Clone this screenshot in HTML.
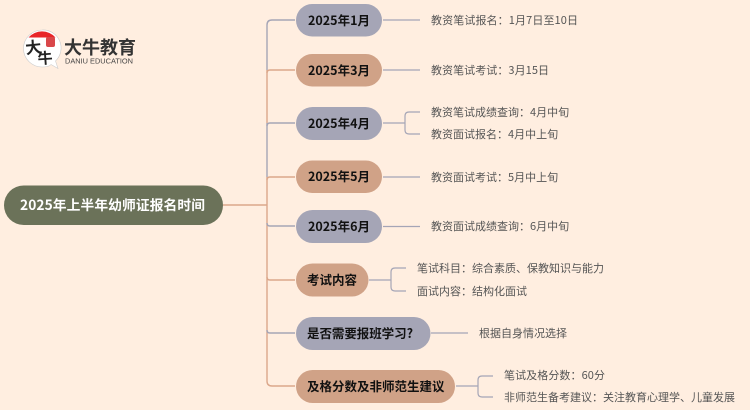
<!DOCTYPE html>
<html lang="zh">
<head>
<meta charset="utf-8">
<style>
html,body{margin:0;padding:0;background:#ffeee0;}
svg{display:block;}
text{font-family:"Liberation Sans","Noto Sans CJK SC",sans-serif;}
.n{font-size:12.5px;font-weight:700;fill:#111;font-family:"Noto Sans CJK SC",sans-serif;}
.t{font-size:11px;fill:#555;font-family:"Noto Sans CJK SC",sans-serif;}
</style>
</head>
<body>
<svg width="750" height="410" viewBox="0 0 750 410" xmlns="http://www.w3.org/2000/svg">
<rect width="750" height="410" fill="#ffeee0"/>

<!-- trunk connectors -->
<g fill="none" stroke-width="1.4">
<path d="M223 205H267" stroke="#dba78b"/>
<path d="M267 177V381Q267 386 272 386H295" stroke="#dba78b"/>
<path d="M267 70V123" stroke="#dba78b"/>
<path d="M267 123V177" stroke="#a5a5b6"/>
<path d="M295 20H272Q267 20 267 25V70" stroke="#a5a5b6"/>
<path d="M267 73Q267 70 270 70H295" stroke="#dba78b"/>
<path d="M267 126Q267 123 270 123H295" stroke="#a5a5b6"/>
<path d="M267 180Q267 177 270 177H295" stroke="#dba78b"/>
<path d="M267 223Q267 226 270 226H295" stroke="#a5a5b6"/>
<path d="M267 277Q267 280 270 280H295" stroke="#dba78b"/>
<path d="M267 330Q267 333 270 333H295" stroke="#a5a5b6"/>
<!-- right connectors -->
<g stroke="#a5a5b6" stroke-width="1.2">
<path d="M383 20H420"/>
<path d="M383 70H420"/>
<path d="M383 123H405"/>
<path d="M420 112H409Q405 112 405 116V130Q405 134 409 134H420"/>
<path d="M383 177H420"/>
<path d="M383 226.500H420"/>
<path d="M369 280H391"/>
<path d="M406 268H395Q391 268 391 272V287Q391 291 395 291H406"/>
<path d="M431 333H468"/>
<path d="M456 386H478"/>
<path d="M493 376H482Q478 376 478 380V393Q478 397 482 397H493"/>
</g>
</g>

<!-- center node -->
<rect x="4" y="185.500" width="219" height="39.500" rx="19.700" fill="#6b7259"/>
<text x="20" y="210" textLength="185" style="font-family:'Noto Sans CJK SC',sans-serif;font-size:13.750px;font-weight:700;fill:#fff">2025年上半年幼师证报名时间</text>

<!-- branch nodes -->
<rect x="296" y="4" width="86" height="32.500" rx="16.200" fill="#a5a5b6"/>
<text class="n" x="308" y="25" textLength="62">2025年1月</text>
<rect x="296" y="54" width="86" height="32.500" rx="16.200" fill="#d0a287"/>
<text class="n" x="308" y="75" textLength="62">2025年3月</text>
<rect x="296" y="107" width="86" height="33" rx="16.500" fill="#a5a5b6"/>
<text class="n" x="308" y="128" textLength="62">2025年4月</text>
<rect x="296" y="160.500" width="86" height="32.500" rx="16.200" fill="#d0a287"/>
<text class="n" x="308" y="181" textLength="62">2025年5月</text>
<rect x="296" y="210" width="86" height="33" rx="16.500" fill="#a5a5b6"/>
<text class="n" x="308" y="231" textLength="62">2025年6月</text>
<rect x="296" y="263.500" width="72.500" height="33" rx="16.500" fill="#d0a287"/>
<text class="n" x="307" y="284.500">考试内容</text>
<rect x="296" y="317" width="134.500" height="33" rx="16.500" fill="#a5a5b6"/>
<text class="n" x="307" y="338" textLength="106">是否需要报班学习?</text>
<rect x="296" y="370" width="159" height="33" rx="16.500" fill="#d0a287"/>
<text class="n" x="307" y="391">及格分数及非师范生建议</text>

<!-- leaf labels -->
<text class="t" x="431" y="24" textLength="147">教资笔试报名：1月7日至10日</text>
<text class="t" x="431" y="74" textLength="118">教资笔试考试：3月15日</text>
<text class="t" x="431" y="116">教资笔试成绩查询：4月中旬</text>
<text class="t" x="431" y="138">教资面试报名：4月中上旬</text>
<text class="t" x="431" y="181">教资面试考试：5月中上旬</text>
<text class="t" x="431" y="230">教资面试成绩查询：6月中旬</text>
<text class="t" x="417" y="272">笔试科目：综合素质、保教知识与能力</text>
<text class="t" x="417" y="295">面试内容：结构化面试</text>
<text class="t" x="479" y="337">根据自身情况选择</text>
<text class="t" x="504" y="379" textLength="101">笔试及格分数：60分</text>
<text class="t" x="504" y="401">非师范生备考建议：关注教育心理学、儿童发展</text>

<!-- logo -->
<path d="M42 30A18 18 0 0 0 42 67Q49 67 51 64.500L58 68.500L55.500 61A18 18 0 0 0 42 30Z" fill="#fff" stroke="#ccc" stroke-width="0.600"/>
<path d="M28.500 37.500A18 18 0 0 1 55.500 37.500Z" fill="#e8262a"/>
<rect x="46" y="37" width="9" height="10" rx="2" fill="#d9474a"/>
<text x="0" y="0" transform="translate(26 54) rotate(-6)" style="font-family:'Noto Sans CJK SC',sans-serif;font-size:16px;font-weight:700;fill:#222">大</text>
<text x="0" y="0" transform="translate(38 64) rotate(-4)" style="font-family:'Noto Sans CJK SC',sans-serif;font-size:15px;font-weight:700;fill:#222">牛</text>
<text x="64" y="54" style="font-family:'Noto Sans CJK SC',sans-serif;font-size:18px;font-weight:700;fill:#333">大牛教育</text>
<text x="65" y="63.500" textLength="68" lengthAdjust="spacingAndGlyphs" style="font-size:7.500px;fill:#444">DANIU EDUCATION</text>
</svg>
</body>
</html>
